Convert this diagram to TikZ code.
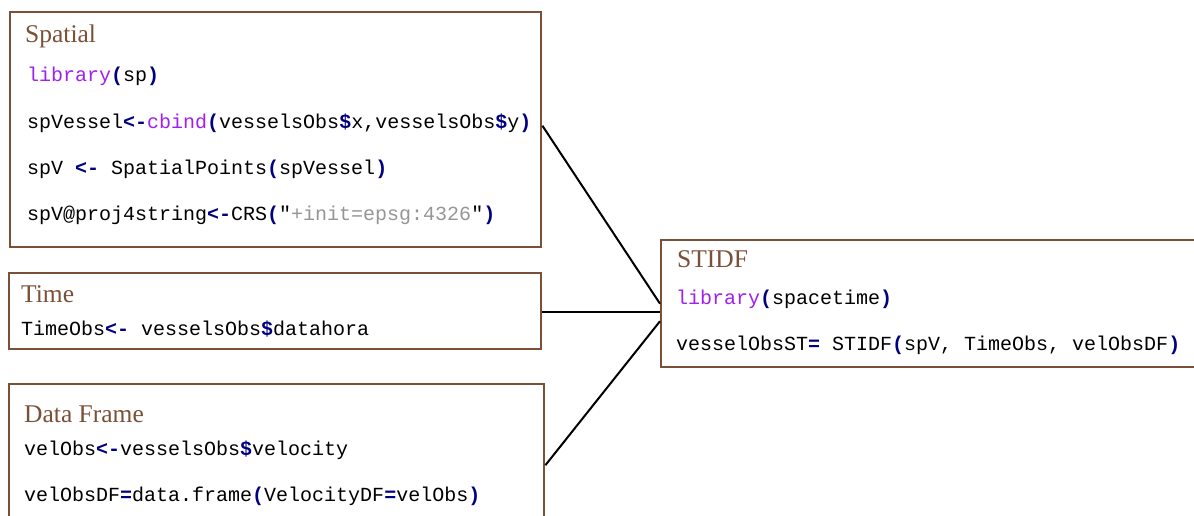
\documentclass[tikz,border=0pt]{standalone}
\usepackage{fontspec}
\setmainfont{Liberation Serif}
\newfontfamily\codefont{Liberation Mono}
\definecolor{brownc}{RGB}{123,80,56}
\definecolor{opc}{RGB}{0,0,128}
\definecolor{fnc}{RGB}{160,32,240}
\definecolor{strc}{RGB}{150,150,150}
\newcommand{\op}[1]{{\bfseries\color{opc}#1}}
\newcommand{\fn}[1]{{\color{fnc}#1}}
\newcommand{\strg}[1]{{\color{strc}#1}}
\tikzset{
  box/.style={draw=brownc, line width=2.4pt, fill=white, anchor=north west, inner sep=0pt},
  ttl/.style={anchor=base west, inner sep=0pt, text=brownc, font=\fontsize{25.5}{30}\selectfont},
  code/.style={anchor=base west, inner sep=0pt, font=\codefont\fontsize{20}{24}\selectfont},
  link/.style={draw=black, line width=2pt}
}
\begin{document}
\begin{tikzpicture}[x=1pt,y=-1pt]
\useasboundingbox (0,0) rectangle (1194,515);
% boxes
\node[box, minimum width=531, minimum height=235] (spatial) at (9,11) {};
\node[box, minimum width=532, minimum height=76] (time) at (8,272) {};
\node[box, minimum width=535, minimum height=162] (data) at (8,383) {};
\node[box, minimum width=560, minimum height=127] (stidf) at (660,239) {};
% connectors
\draw[link] ([yshift=4pt]spatial.east) -- (stidf.west);
\draw[link] ([yshift=-1pt]time.east) -- ([yshift=-1pt]time.east -| stidf.west);
\draw[link] (data.east) -- ([yshift=-17.5pt]stidf.west);
% Spatial
\node[ttl] (t1) at (25,42) {Spatial};
\node[code] (s1) at (27,81) {\fn{library}\op{(}sp\op{)}};
\node[code] (s2) at (27,128) {spVessel\op{<-}\fn{cbind}\op{(}vesselsObs\op{\$}x,vesselsObs\op{\$}y\op{)}};
\node[code] (s3) at (27,174) {spV \op{<-} SpatialPoints\op{(}spVessel\op{)}};
\node[code] (s4) at (27,220) {spV@proj4string\op{<-}CRS\op{(}"\strg{+init=epsg:4326}"\op{)}};
% Time
\node[ttl] (t2) at (21,302) {Time};
\node[code] (c1) at (21,335) {TimeObs\op{<-} vesselsObs\op{\$}datahora};
% Data Frame
\node[ttl] (t3) at (24,422) {Data Frame};
\node[code] (d1) at (24,455) {velObs\op{<-}vesselsObs\op{\$}velocity};
\node[code] (d2) at (24,501) {velObsDF\op{=}data.frame\op{(}VelocityDF\op{=}velObs\op{)}};
% STIDF
\node[ttl] (t4) at (677,267) {STIDF};
\node[code] (st1) at (676,304) {\fn{library}\op{(}spacetime\op{)}};
\node[code] (st2) at (676,350) {vesselObsST\op{=} STIDF\op{(}spV, TimeObs, velObsDF\op{)}};
\end{tikzpicture}
\end{document}
